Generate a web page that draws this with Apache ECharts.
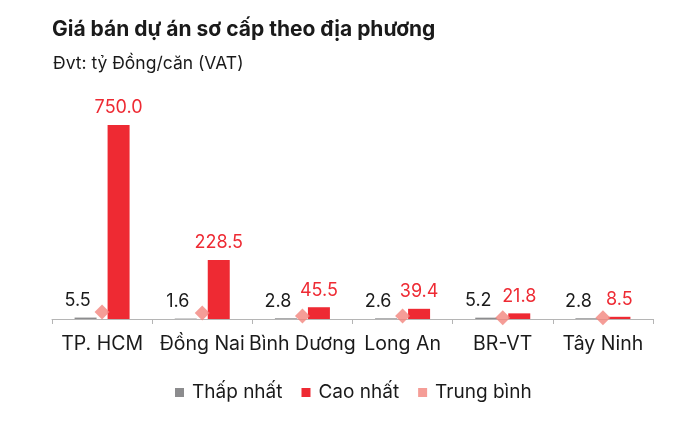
<!DOCTYPE html>
<html>
<head>
<meta charset="utf-8">
<script src="https://cdn.jsdelivr.net/npm/echarts@6/dist/echarts.min.js"></script>
<style>html,body{margin:0;padding:0;background:#fff;}#c{width:680px;height:421px;}</style>
</head>
<body>
<div id="c"></div>
<script>
const categories = ['TP. HCM', 'Đồng Nai', 'Bình Dương', 'Long An', 'BR-VT', 'Tây Ninh'];
const minValues = [5.5, 1.6, 2.8, 2.6, 5.2, 2.8];
const maxValues = [750.0, 228.5, 45.5, 39.4, 21.8, 8.5];
const avgValues = [27, 23, 12, 12, 5, 5];
const seriesNames = ['Thấp nhất', 'Cao nhất', 'Trung bình'];

const FONT = 'Inter, "Noto Sans", sans-serif';
const chart = echarts.init(document.getElementById('c'), null, {renderer: 'canvas'});
chart.setOption({
  animation: false,
  backgroundColor: '#ffffff',
  textStyle: {fontFamily: FONT},
  title: [
    {text: 'Giá bán dự án sơ cấp theo địa phương', left: 47, top: 14,
     textStyle: {fontFamily: FONT, fontSize: 21, fontWeight: 'bold', color: '#1a1a1a'}},
    {text: 'Đvt: tỷ Đồng/căn (VAT)', left: 48, top: 50,
     textStyle: {fontFamily: FONT, fontSize: 17.5, fontWeight: 'normal', color: '#1a1a1a'}}
  ],
  legend: {
    bottom: 14, left: 170,
    itemWidth: 9, itemHeight: 9, itemGap: 19,
    textStyle: {fontFamily: FONT, fontSize: 19, color: '#1a1a1a', padding: [0, 0, 0, 3]},
    data: [
      {name: seriesNames[0], icon: 'rect'},
      {name: seriesNames[1], icon: 'rect'},
      {name: seriesNames[2], icon: 'rect'}
    ]
  },
  grid: {left: 52, right: 27, top: 125, bottom: 102},
  xAxis: {
    type: 'category', data: categories,
    axisLine: {lineStyle: {color: '#b5b5b5', width: 1}},
    axisTick: {show: true, length: 5, lineStyle: {color: '#b5b5b5'}},
    axisLabel: {interval: 0, hideOverlap: false, fontFamily: FONT, fontSize: 19.5, color: '#1a1a1a', margin: 15}
  },
  yAxis: {
    type: 'value', min: 0, max: 750, show: false,
    splitLine: {show: false}
  },
  series: [
    {name: seriesNames[0], type: 'bar', data: minValues, barWidth: 22, barGap: '50%',
     itemStyle: {color: '#8c8c8e'},
     label: {show: true, position: 'top', distance: 8, offset: [-8, 0], formatter: p => p.value.toFixed(1),
             fontFamily: FONT, fontSize: 18, color: '#1a1a1a'}},
    {name: seriesNames[1], type: 'bar', data: maxValues, barWidth: 22,
     itemStyle: {color: '#EE2A33'},
     label: {show: true, position: 'top', distance: 8, formatter: p => p.value.toFixed(1),
             fontFamily: FONT, fontSize: 18, color: '#EE2A33'}},
    {name: seriesNames[2], type: 'scatter', data: avgValues, symbol: 'diamond', symbolSize: [15, 15],
     z: 5, itemStyle: {color: '#F2847D'}}
  ]
});
</script>
</body>
</html>
